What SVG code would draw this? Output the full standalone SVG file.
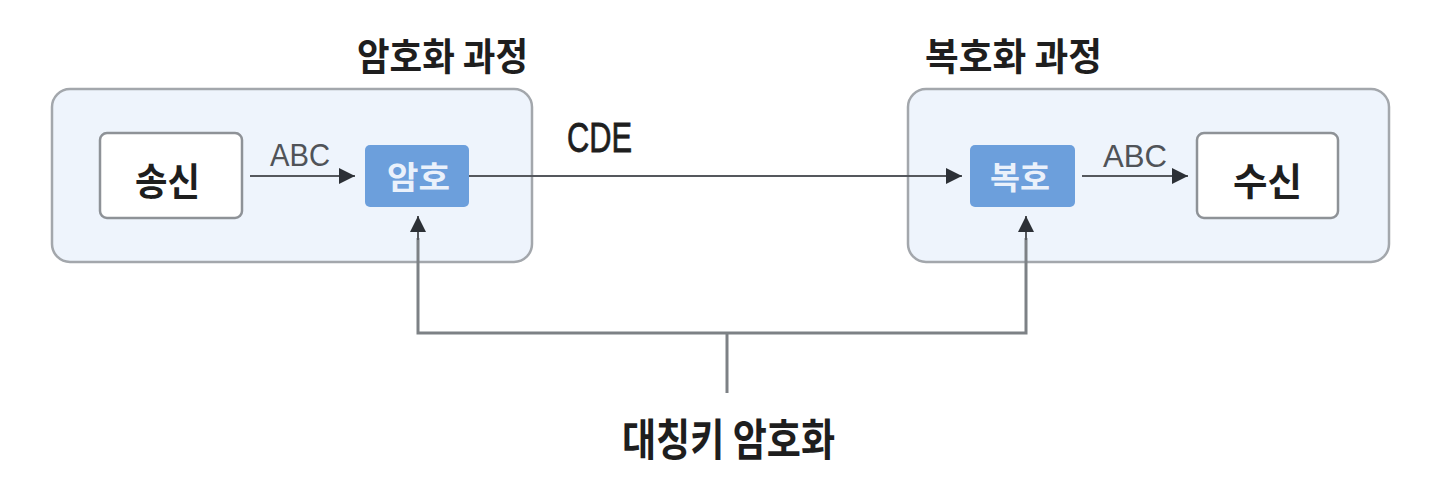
<svg xmlns="http://www.w3.org/2000/svg" width="1430" height="486" viewBox="0 0 1430 486">
<defs>
<style>
.panel{fill:#eef4fc;stroke:#a3a7ac;stroke-width:2.5}
.white{fill:#ffffff;stroke:#8e9297;stroke-width:2.5}
.blue{fill:#6c9fdc}
.ko{font-family:"Noto Sans CJK KR","Noto Sans",sans-serif;font-weight:700;fill:#1e1e1e}
.kw{font-family:"Noto Sans CJK KR","Noto Sans",sans-serif;font-weight:700;fill:#eaf1fb}
.lat{font-family:"Liberation Sans",Arial,sans-serif;fill:#505358}
.cde{font-family:"Liberation Sans",Arial,sans-serif;fill:#1e1e1e;stroke:#1e1e1e;stroke-width:0.8}
.arr{fill:none;stroke:#55585d;stroke-width:2}
.key{fill:none;stroke:#7d8185;stroke-width:3}
</style>
<marker id="ah" viewBox="0 0 10 10" refX="10" refY="5" markerWidth="16" markerHeight="16" markerUnits="userSpaceOnUse" orient="auto">
<path d="M0,0 L10,5 L0,10 z" fill="#2c3036"/>
</marker>
</defs>
<g id="title-enc"><text class="ko" x="357" y="70" font-size="38" textLength="171" lengthAdjust="spacingAndGlyphs">암호화 과정</text></g>
<g id="title-dec"><text class="ko" x="925" y="70" font-size="38" textLength="177" lengthAdjust="spacingAndGlyphs">복호화 과정</text></g>
<g id="panel-enc"><rect class="panel" x="52" y="89" width="480" height="173" rx="18"/></g>
<g id="panel-dec"><rect class="panel" x="908" y="89" width="481" height="173" rx="18"/></g>
<g id="sender"><rect class="white" x="100" y="133" width="142" height="85" rx="7"/>
<text class="ko" x="135" y="195" font-size="38" textLength="65" lengthAdjust="spacingAndGlyphs">송신</text></g>
<g id="encrypt"><rect class="blue" x="365" y="145" width="104" height="62" rx="5"/>
<text class="kw" x="387" y="189" font-size="32" textLength="63" lengthAdjust="spacingAndGlyphs">암호</text></g>
<g id="decrypt"><rect class="blue" x="970" y="145" width="105" height="62" rx="5"/>
<text class="kw" x="990" y="189" font-size="32" textLength="60" lengthAdjust="spacingAndGlyphs">복호</text></g>
<g id="receiver"><rect class="white" x="1197" y="133" width="141" height="85" rx="7"/>
<text class="ko" x="1233" y="195" font-size="38" textLength="69" lengthAdjust="spacingAndGlyphs">수신</text></g>
<g id="key-label"><text class="ko" x="622" y="456" font-size="44" textLength="213" lengthAdjust="spacingAndGlyphs">대칭키 암호화</text></g>
<g id="connectors">
<line class="arr" x1="250" y1="176" x2="355" y2="176" marker-end="url(#ah)"/>
<text class="lat" x="270" y="166" font-size="32" textLength="60" lengthAdjust="spacingAndGlyphs">ABC</text>
<line class="arr" x1="469" y1="176" x2="962" y2="176" marker-end="url(#ah)"/>
<text class="cde" x="567" y="152" font-size="42" textLength="65" lengthAdjust="spacingAndGlyphs">CDE</text>
<line class="arr" x1="1082" y1="176" x2="1188" y2="176" marker-end="url(#ah)"/>
<text class="lat" x="1103" y="167" font-size="32" textLength="64" lengthAdjust="spacingAndGlyphs">ABC</text>
<polyline class="key" points="727,393 727,333"/>
<polyline class="key" points="418,238 418,333 1026,333 1026,238"/>
<line class="arr" x1="418" y1="240" x2="418" y2="216" marker-end="url(#ah)"/>
<line class="arr" x1="1026" y1="240" x2="1026" y2="216" marker-end="url(#ah)"/>
</g>
</svg>
